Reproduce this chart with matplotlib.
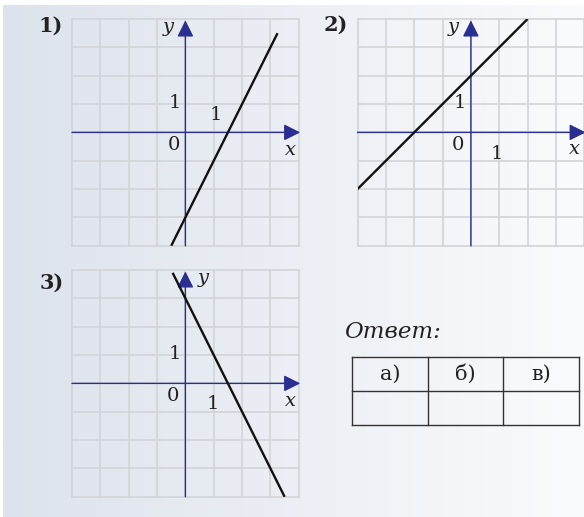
import numpy as np
import matplotlib
matplotlib.use("Agg")
import matplotlib.pyplot as plt
from matplotlib.patches import ArrowStyle

# ---- data ----
grid_ticks = [-4, -3, -2, -1, 0, 1, 2, 3, 4]
line1_x = [-0.5, 3.25]
line1_y = [-4.0, 3.5]
line2_x = [-4.0, 2.0]
line2_y = [-2.0, 4.0]
line3_x = [-0.45, 3.5]
line3_y = [3.9, -4.0]
panel_labels = ["1)", "2)", "3)"]
answer_title = "Ответ:"
table_headers = ["а)", "б)", "в)"]

W, H = 584, 517
fig = plt.figure(figsize=(W / 100, H / 100), dpi=100)
fig.patch.set_facecolor("white")

# background gradient panel
bg = fig.add_axes([3 / W, 0, (W - 3) / W, (H - 5) / H])
grad = np.linspace(0, 1, 256)[None, :]
c0 = np.array([0xdd, 0xe3, 0xec]) / 255
c1 = np.array([0xfa, 0xfb, 0xfd]) / 255
img = c0[None, None, :] * (1 - grad[..., None]) + c1[None, None, :] * grad[..., None]
bg.imshow(img, aspect="auto", extent=[0, 1, 0, 1])
bg.set_axis_off()

GRID_C = "#d2d4d8"
AX_C = "#2b2e91"
TXT_C = "#222222"
SERIF = "DejaVu Serif"

CELL = 28.35
SIZE = CELL * 8


def make_graph(left_px, top_px):
    ax = fig.add_axes([left_px / W, (H - top_px - SIZE) / H, SIZE / W, SIZE / H])
    ax.set_xlim(-4, 4)
    ax.set_ylim(-4, 4)
    ax.set_facecolor("none")
    ax.set_axis_off()
    for t in grid_ticks:
        ax.plot([t, t], [-4, 4], color=GRID_C, lw=1.2, zorder=1, clip_on=False)
        ax.plot([-4, 4], [t, t], color=GRID_C, lw=1.2, zorder=1, clip_on=False)
    style = ArrowStyle("-|>", head_length=1.0, head_width=0.5)
    ax.annotate("", xy=(4.05, 0), xytext=(-4, 0),
                arrowprops=dict(arrowstyle=style, color=AX_C, lw=1.0,
                                shrinkA=0, shrinkB=0, mutation_scale=10),
                zorder=3, annotation_clip=False)
    ax.annotate("", xy=(0, 3.95), xytext=(0, -4),
                arrowprops=dict(arrowstyle=style, color=AX_C, lw=1.0,
                                shrinkA=0, shrinkB=0, mutation_scale=10),
                zorder=3, annotation_clip=False)
    return ax


def txt(ax, x, y, s, size=14, style="normal", weight="normal"):
    ax.text(x, y, s, fontsize=size, family=SERIF, style=style, weight=weight,
            color=TXT_C, ha="center", va="center", zorder=5, clip_on=False)


# graph 1
ax1 = make_graph(72, 19)
ax1.plot(line1_x, line1_y, color="#111111", lw=1.7, zorder=4, solid_capstyle="butt")
txt(ax1, -0.38, 1.05, "1")
txt(ax1, 1.06, 0.63, "1")
txt(ax1, -0.42, -0.45, "0")
txt(ax1, -0.62, 3.72, "y", size=14, style="italic")
txt(ax1, 3.7, -0.62, "x", size=14, style="italic")
txt(ax1, -4.75, 3.77, panel_labels[0], size=15, weight="bold")

# graph 2
ax2 = make_graph(357.5, 19)
ax2.plot(line2_x, line2_y, color="#111111", lw=1.7, zorder=4, solid_capstyle="butt")
txt(ax2, -0.38, 1.05, "1")
txt(ax2, -0.45, -0.45, "0")
txt(ax2, 0.93, -0.75, "1")
txt(ax2, -0.62, 3.72, "y", size=14, style="italic")
txt(ax2, 3.64, -0.58, "x", size=14, style="italic")
txt(ax2, -4.75, 3.8, panel_labels[1], size=15, weight="bold")

# graph 3
ax3 = make_graph(72, 270)
ax3.plot(line3_x, line3_y, color="#111111", lw=1.7, zorder=4, solid_capstyle="butt")
txt(ax3, -0.38, 1.05, "1")
txt(ax3, -0.45, -0.45, "0")
txt(ax3, 0.96, -0.73, "1")
txt(ax3, 0.62, 3.72, "y", size=14, style="italic")
txt(ax3, 3.72, -0.62, "x", size=14, style="italic")
txt(ax3, -4.7, 3.55, panel_labels[2], size=15, weight="bold")

# answer table (overlay in pixel coordinates)
ov = fig.add_axes([0, 0, 1, 1])
ov.set_xlim(0, W)
ov.set_ylim(H, 0)
ov.set_axis_off()
ov.patch.set_alpha(0)
ov.text(344, 332, answer_title, fontsize=16.5, family=SERIF, style="italic",
        color=TXT_C, ha="left", va="center")
cols = [351.7, 428, 503.3, 579.3]
rows = [357.3, 391, 425]
for r in rows:
    ov.plot([cols[0], cols[-1]], [r, r], color="#333333", lw=1.0, solid_capstyle="projecting")
for c in cols:
    ov.plot([c, c], [rows[0], rows[-1]], color="#333333", lw=1.0, solid_capstyle="projecting")
for i, h in enumerate(table_headers):
    ov.text((cols[i] + cols[i + 1]) / 2, (rows[0] + rows[1]) / 2, h, fontsize=15,
            family=SERIF, color=TXT_C, ha="center", va="center")

fig.savefig("out.png", dpi=100)
